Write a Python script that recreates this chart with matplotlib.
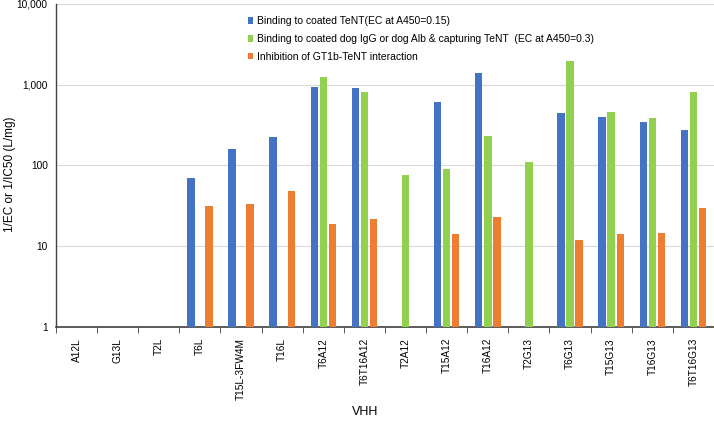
import matplotlib
matplotlib.use("Agg")
import matplotlib.pyplot as plt
import numpy as np
from matplotlib.ticker import FixedLocator, NullLocator

plt.rcParams["font.family"] = ["Liberation Sans", "DejaVu Sans"]

# ── data ────────────────────────────────────────────────────────────────────
vhh = ["A12L", "G13L", "T2L", "T6L", "T15L-3FW4M", "T16L", "T6A12", "T6T16A12",
       "T2A12", "T15A12", "T16A12", "T2G13", "T6G13", "T15G13", "T16G13", "T6T16G13"]
nan = np.nan
tent_binding = [nan, nan, nan, 70, 160, 225, 935, 910,
                nan, 610, 1400, nan, 450, 400, 345, 275]
capture_binding = [nan, nan, nan, nan, nan, nan, 1250, 820,
                   75, 90, 230, 110, 1980, 460, 390, 820]
gt1b_inhibition = [nan, nan, nan, 30.5, 32.5, 47, 18, 20.5,
                   nan, 13, 22, nan, 11, 13.2, 13.7, 28.5]

series = [
    (tent_binding, "#4472C4", "Binding to coated TeNT(EC at A450=0.15)"),
    (capture_binding, "#92D050",
     "Binding to coated dog IgG or dog Alb & capturing TeNT  (EC at A450=0.3)"),
    (gt1b_inhibition, "#ED7D31", "Inhibition of GT1b-TeNT interaction"),
]

# ── canvas ──────────────────────────────────────────────────────────────────
fig = plt.figure(figsize=(7.14, 4.25), dpi=100)
ax = fig.add_axes([0.0784, 0.2306, 0.9216, 0.76])

x = np.arange(len(vhh))
width = 0.18
step = 0.22
for i, (vals, color, lab) in enumerate(series):
    ax.bar(x + (i - 1) * step, vals, width=width, bottom=1, color=color,
           label=lab, zorder=3)

ax.set_yscale("log")
ax.set_ylim(1, 10000)
ax.set_xlim(-0.5, len(vhh) - 0.5)
ax.yaxis.set_major_locator(FixedLocator([1, 10, 100, 1000, 10000]))
ax.yaxis.set_minor_locator(NullLocator())
ax.set_yticklabels(["1", "10", "100", "1,000", "10,000"], fontsize=7.3)
ax.tick_params(axis="y", length=0, pad=6)
ax.grid(axis="y", color="#D9D9D9", lw=0.8, zorder=0)

ax.set_xticks(x)
ax.set_xticklabels(vhh, rotation=90, fontsize=7.3)
ax.set_xticks(np.arange(len(vhh) + 1) - 0.5, minor=True)
ax.tick_params(axis="x", which="major", length=0, pad=8)
ax.tick_params(axis="x", which="minor", length=4, direction="out", color="#404040")

for s in ["top", "right"]:
    ax.spines[s].set_visible(False)
ax.spines["left"].set_color("#404040")
ax.spines["bottom"].set_color("#404040")
ax.spines["left"].set_linewidth(1.0)
ax.spines["bottom"].set_linewidth(1.2)

fig.text(0.014, 0.59, "1/EC or 1/IC50 (L/mg)", rotation=90, ha="center",
         va="center", fontsize=8.5)
fig.text(0.511, 0.016, "VHH", ha="center", va="bottom", fontsize=9)

ax.legend(loc="upper left", bbox_to_anchor=(0.285, 0.975), frameon=False,
          fontsize=7.5, handlelength=0.55, handleheight=0.55, handletextpad=0.3,
          labelspacing=0.75, borderaxespad=0)

fig.savefig("out.png", dpi=100)
